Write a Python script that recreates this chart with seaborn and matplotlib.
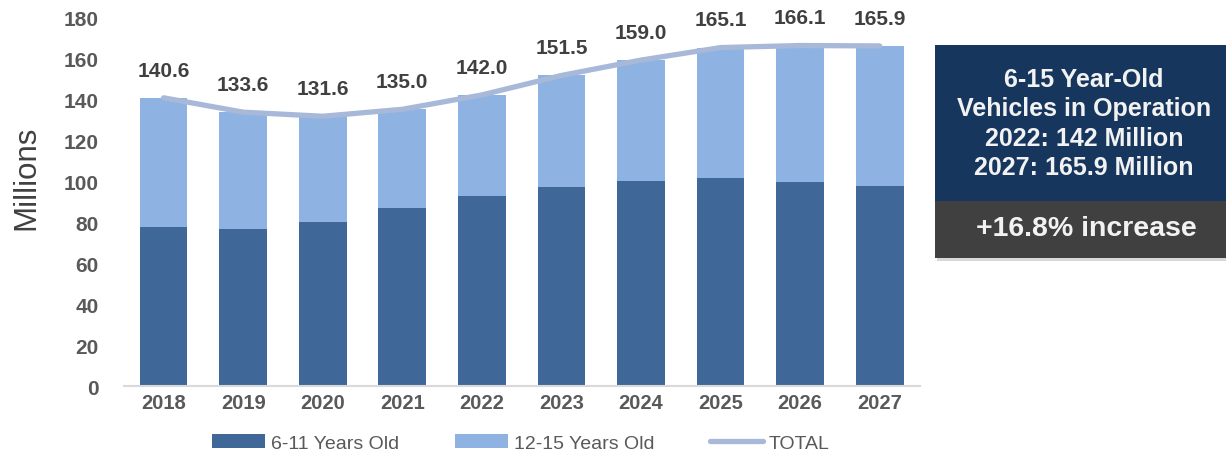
import numpy as np
import pandas as pd
import matplotlib
matplotlib.use("Agg")
import matplotlib.pyplot as plt
from matplotlib.patches import Patch, Rectangle
from matplotlib.lines import Line2D
import seaborn as sns

years = ["2018", "2019", "2020", "2021", "2022", "2023", "2024", "2025", "2026", "2027"]
age_6_11 = [77.6, 76.7, 80.1, 87.0, 92.8, 97.2, 100.2, 101.6, 99.5, 97.6]
totals = [140.6, 133.6, 131.6, 135.0, 142.0, 151.5, 159.0, 165.1, 166.1, 165.9]
age_12_15 = [round(t - a, 1) for t, a in zip(totals, age_6_11)]

dark_blue = "#3F6899"
light_blue = "#8EB3E2"
line_color = "#A8B8D8"
tick_gray = "#595959"
label_gray = "#404040"

sns.set_theme(style="white")
plt.rcParams["font.family"] = ["Liberation Sans", "DejaVu Sans"]

df = pd.DataFrame({"year": years, "young": age_6_11, "old": age_12_15, "total": totals})

fig = plt.figure(figsize=(12.26, 4.56), dpi=100)
ax = fig.add_axes([0.101, 0.151, 0.649, 0.8095])

# stacked bars: full stack in light blue, lower segment in dark blue
sns.barplot(data=df, x="year", y="total", color=light_blue, width=0.6,
            saturation=1, ax=ax, edgecolor="none")
sns.barplot(data=df, x="year", y="young", color=dark_blue, width=0.6,
            saturation=1, ax=ax, edgecolor="none")

pos = np.arange(len(years))
sns.lineplot(x=pos, y=df["total"], color=line_color, linewidth=3.8, ax=ax,
             solid_capstyle="round", solid_joinstyle="round")

for x, t in zip(pos, totals):
    ax.annotate(f"{t:.1f}", (x, t), xytext=(0, 20), textcoords="offset points",
                ha="center", va="center", fontsize=15, fontweight="bold",
                color=label_gray)

ax.set_xlim(-0.5, len(years) - 0.5)
ax.set_ylim(0, 180)
ax.set_yticks(range(0, 181, 20))
ax.set_xlabel("")
ax.set_ylabel("")
ax.tick_params(axis="y", length=0, pad=18, labelsize=15, colors=tick_gray)
ax.tick_params(axis="x", length=0, pad=5, labelsize=14.5, colors=tick_gray)
for lbl in ax.get_xticklabels() + ax.get_yticklabels():
    lbl.set_fontweight("bold")

for s in ["left", "right", "top"]:
    ax.spines[s].set_visible(False)
ax.spines["bottom"].set_color("#D9D9D9")
ax.spines["bottom"].set_linewidth(1.5)

W, H = 1226, 456
def fx(px):
    return px / W
def fy(py):
    return 1 - py / H

fig.text(fx(26), fy(178), "Millions", rotation=90, ha="center", va="center",
         fontsize=22.5, color=label_gray)

handles = [
    Patch(facecolor=dark_blue, edgecolor="none"),
    Patch(facecolor=light_blue, edgecolor="none"),
    Line2D([0], [0], color=line_color, linewidth=3.8, solid_capstyle="round"),
]
fig.legend(handles, ["6-11 Years Old", "12-15 Years Old", "TOTAL"],
           loc="center", bbox_to_anchor=(fx(521), fy(444)), ncol=3, frameon=False,
           fontsize=14, labelcolor=tick_gray, handlelength=2.7, handleheight=0.7,
           columnspacing=2.9, handletextpad=0.3)

# summary callout on the right
fig.patches.append(Rectangle((fx(937), fy(262)), fx(1226) - fx(937), fy(46) - fy(262),
                             transform=fig.transFigure, facecolor="#BFBFBF",
                             edgecolor="none", alpha=0.6, zorder=1))
fig.patches.append(Rectangle((fx(935), fy(202)), fx(1226) - fx(935), fy(46) - fy(202),
                             transform=fig.transFigure, facecolor="#17365D",
                             edgecolor="none", zorder=2))
fig.patches.append(Rectangle((fx(935), fy(259)), fx(1226) - fx(935), fy(202) - fy(259),
                             transform=fig.transFigure, facecolor="#404040",
                             edgecolor="none", zorder=2))
fig.text(fx(1084), fy(124), "6-15 Year-Old\nVehicles in Operation\n2022: 142 Million\n2027: 165.9 Million",
         ha="center", va="center", fontsize=18, fontweight="bold", color="#F2F2F2",
         linespacing=1.28, zorder=3)
fig.text(fx(1086), fy(229), "+16.8% increase", ha="center", va="center",
         fontsize=20.5, fontweight="bold", color="#F2F2F2", zorder=3)

fig.savefig("out.png", dpi=100)
